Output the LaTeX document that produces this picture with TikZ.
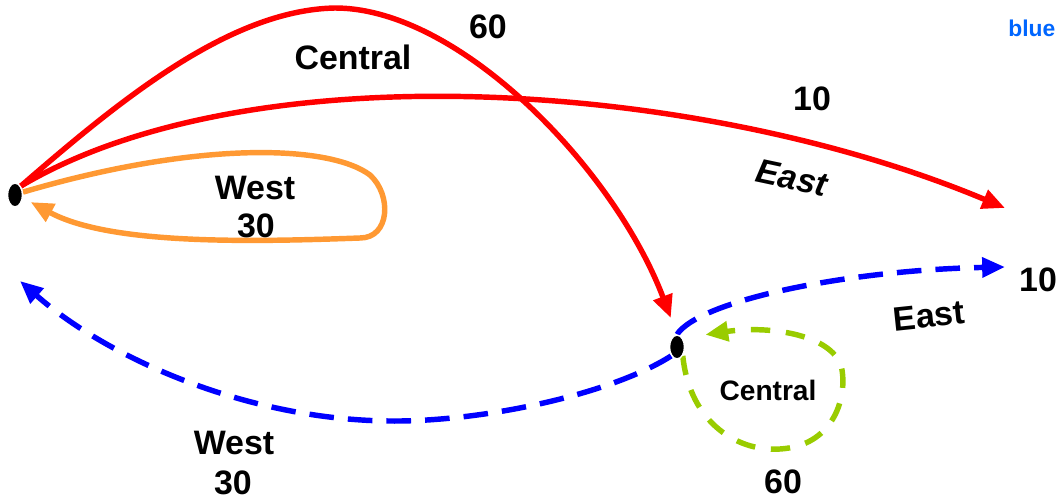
\documentclass[tikz,border=0pt]{standalone}
\usepackage{fontspec}
\setmainfont{Liberation Sans}
\usetikzlibrary{arrows.meta,shapes.geometric,backgrounds}
\definecolor{cred}{RGB}{255,0,0}
\definecolor{corange}{RGB}{255,153,51}
\definecolor{cblue}{RGB}{0,0,255}
\definecolor{cgreen}{RGB}{153,204,0}
\definecolor{ctext}{RGB}{0,102,255}
\tikzset{
  statenode/.style={ellipse,fill=black,draw=white,line width=0.8pt,minimum width=8.5pt,minimum height=13.5pt,inner sep=0pt},
  edgeline/.style={line width=3.1pt,-{Triangle[length=13pt,width=11pt]}},
  dashblue/.style={edgeline,cblue,dash pattern=on 14pt off 8pt},
  dashgreen/.style={edgeline,cgreen,dash pattern=on 11pt off 9pt},
  lab/.style={font=\fontsize{19.3}{22}\selectfont\bfseries,inner sep=0pt},
  labsmall/.style={font=\fontsize{16}{19}\selectfont\bfseries,inner sep=0pt}
}
\begin{document}
\begin{tikzpicture}[x=0.02cm,y=-0.02cm]
\useasboundingbox (0,0) rectangle (1059,500);
\node[statenode] (A) at (15,195) {};
\node[statenode] (B) at (677,347) {};
\coordinate (redE) at (1005,208);
\coordinate (blueE) at (1005,267);
\coordinate (blueW) at (20,281);
\begin{pgfonlayer}{background}
% red: Central 60
\draw[edgeline,cred,shorten >=10pt] (A.north east) .. controls (120,100) and (230,10) .. (335,8)
   .. controls (460,8) and (615,170) .. (B.north);
% red: East 10
\draw[edgeline,cred] (A.north east) .. controls (250,50) and (700,80) .. (redE);
% orange: West 30
\draw[edgeline,corange,shorten >=5pt] (A.20) .. controls (200,140) and (330,145) .. (370,175)
   .. controls (392,195) and (390,238) .. (360,238)
   .. controls (250,242) and (110,245) .. (A.-20);
% blue dashed
\draw[dashblue] (B.north) .. controls (700,300) and (850,270) .. (blueE);
\draw[dashblue] (B.south west) .. controls (610,395) and (480,422) .. (390,421)
   .. controls (250,420) and (110,360) .. (blueW);
% green dashed loop
\draw[dashgreen,shorten >=13pt] (B.south east) .. controls (690,425) and (740,452) .. (780,449)
   .. controls (832,446) and (847,400) .. (842,370)
   .. controls (836,335) and (770,325) .. (B.north east);
\end{pgfonlayer}
% labels
\node[lab] (l1) at (353,57) {Central};
\node[lab] (l2) at (488,27) {60};
\node[lab] (l3) at (812,99) {10};
\node[lab,rotate=-12,font=\fontsize{19.3}{22}\selectfont\bfseries\itshape] (l4) at (792,178) {East};
\node[lab] (l5) at (255,188) {West};
\node[lab] (l6) at (256,226) {30};
\node[lab] (l7) at (1038,280) {10};
\node[lab,rotate=6] (l8) at (929,316) {East};
\node[labsmall] (l9) at (768,390) {Central};
\node[lab] (l10) at (234,443) {West};
\node[lab] (l11) at (233,483) {30};
\node[lab] (l12) at (783,482) {60};
\node[font=\fontsize{13}{15}\selectfont\bfseries,text=ctext,anchor=west,inner sep=0pt] (l13) at (1008,28) {blue};
\end{tikzpicture}
\end{document}
